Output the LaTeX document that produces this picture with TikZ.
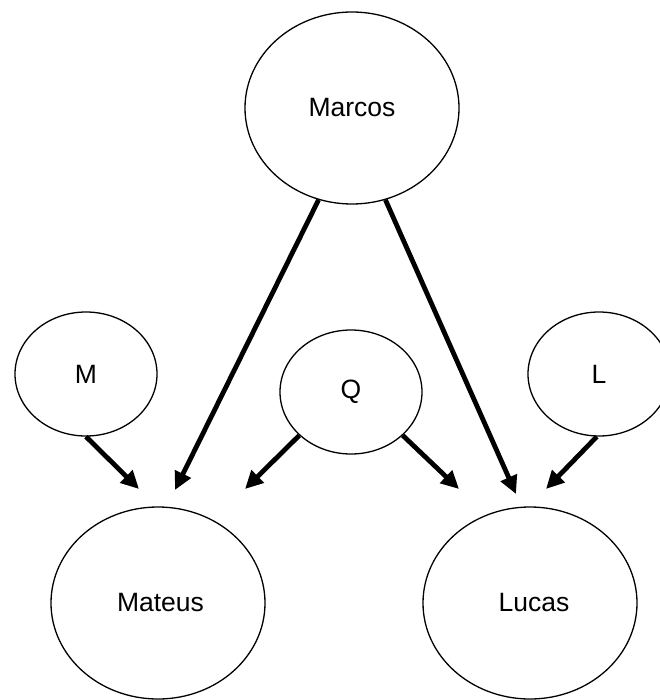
\documentclass[tikz,border=0pt]{standalone}
\usepackage{fontspec}
\setmainfont{Liberation Sans}
\usetikzlibrary{shapes.geometric,arrows.meta}
\begin{document}
\begin{tikzpicture}[x=1pt,y=-1pt,
  var/.style={draw=black,line width=1.3pt,ellipse,inner sep=0pt,
    font=\fontsize{26.5}{30}\selectfont},
  big/.style={var,minimum width=214pt,minimum height=192pt},
  small/.style={var,minimum width=142pt,minimum height=124pt},
  link/.style={line width=4.8pt,-{Triangle[length=18pt,width=17pt]}}]
\useasboundingbox (0,0) rectangle (659,700);
% variables
\node[big]   (Marcos) at (352,108) {Marcos};
\node[small] (M)      at (86,374)  {M};
\node[small] (Q)      at (351,392) {Q};
\node[small] (L)      at (599,374) {L};
\node[big]   (Mateus) at (158,603) {\hspace*{5pt}Mateus};
\node[big]   (Lucas)  at (530,603) {\hspace*{8pt}Lucas};
% arrow tips, short of the target ellipses
\coordinate (tMarcosMateus) at (175,490);
\coordinate (tMarcosLucas)  at (516,494);
\coordinate (tMMateus)      at (139,489);
\coordinate (tQMateus)      at (245,489);
\coordinate (tQLucas)       at (459,489);
\coordinate (tLLucas)       at (546,489);
% influences
\draw[link] (Marcos.250) -- (tMarcosMateus);
\draw[link] (Marcos.290) -- (tMarcosLucas);
\draw[link] (M.south)    -- (tMMateus);
\draw[link] (Q.220)      -- (tQMateus);
\draw[link] (Q.320)      -- (tQLucas);
\draw[link] (L.268)      -- (tLLucas);
\end{tikzpicture}
\end{document}
